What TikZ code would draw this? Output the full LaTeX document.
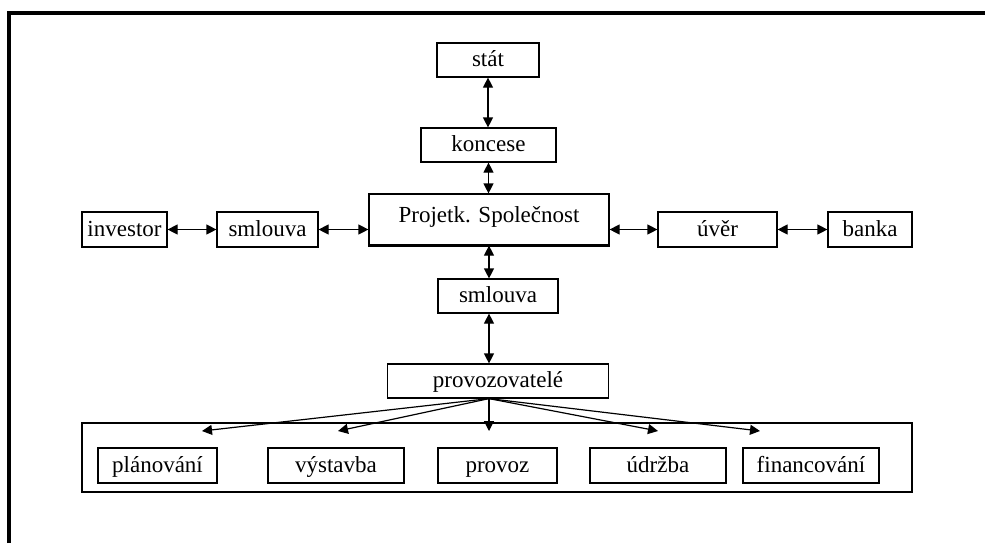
\documentclass[tikz,border=0pt]{standalone}
\usepackage{fontspec}
\setmainfont{Liberation Serif}
\usetikzlibrary{arrows.meta}
\begin{document}
\begin{tikzpicture}
    [ x=0.5pt, y=-0.5pt
    , every node/.style={font=\fontsize{11.5}{13}\selectfont}
    , box/.style={draw,shape=rectangle,line width=0.6pt,inner sep=0pt,text height=8.5pt,text depth=2pt}
    , link/.style={{Triangle[length=5pt,width=5pt]}-{Triangle[length=5pt,width=5pt]},line width=0.6pt}
    , fan/.style={-{Triangle[length=5pt,width=5pt]},line width=0.6pt}
    ]

    \useasboundingbox (0,0) rectangle (985,543);
    \draw [line width=2pt] (9,543) -- (9,13) -- (985,13);

    % centre column
    \node [box, minimum width=51pt, minimum height=17pt] (stat) at (488,60) {stát};
    \node [box, minimum width=67.5pt, minimum height=17pt] (koncese) at (488.5,145) {koncese};
    \node [box, minimum width=120pt, minimum height=25.5pt, text depth=5.5pt] (proj) at (489,219.5) {Projetk. Společnost};
    \node [box, minimum width=60pt, minimum height=17pt] (smlouvaM) at (498,296) {smlouva};
    \node [box, minimum width=110.5pt, minimum height=17pt] (provozovatele) at (498,381) {provozovatelé};
    \draw [line width=1.2pt] (proj.south west) -- (proj.south east);

    % side row
    \node [box, minimum width=42.5pt, minimum height=17.5pt] (investor) at (124.5,229.5) {investor};
    \node [box, minimum width=50.5pt, minimum height=17.5pt] (smlouvaL) at (267.5,229.5) {smlouva};
    \node [box, minimum width=59.5pt, minimum height=17.5pt] (uver) at (717.5,229.5) {úvěr};
    \node [box, minimum width=42pt, minimum height=17.5pt] (banka) at (870,229.5) {banka};

    % activities
    \node [box, minimum width=415pt, minimum height=34.5pt] (activities) at (497,457.5) {};
    \node [box, minimum width=59.5pt, minimum height=17.5pt] (planovani) at (157.5,465.5) {plánování};
    \node [box, minimum width=68pt, minimum height=17.5pt] (vystavba) at (336,465.5) {výstavba};
    \node [box, minimum width=59.5pt, minimum height=17.5pt] (provoz) at (497.5,465.5) {provoz};
    \node [box, minimum width=68pt, minimum height=17.5pt] (udrzba) at (658,465.5) {údržba};
    \node [box, minimum width=68pt, minimum height=17.5pt] (financovani) at (811,465.5) {financování};

    \draw [link] (stat.south) -- (stat.south |- koncese.north);
    \draw [link] (koncese.south) -- (koncese.south |- proj.north);
    \draw [link] (proj.south) -- (proj.south |- smlouvaM.north);
    \draw [link] (smlouvaM.south -| proj.south) -- (provozovatele.north -| proj.south);

    \draw [link] (investor) -- (smlouvaL);
    \draw [link] (smlouvaL) -- (smlouvaL -| proj.west);
    \draw [link] (proj.east |- uver) -- (uver);
    \draw [link] (uver) -- (banka);

    \coordinate (fanorigin) at (provozovatele.south -| proj.south);
    \foreach \tx [count=\i] in {202,338,489,658,760}
      {
        \coordinate (tip\i) at (\tx,431);
        \draw [fan] (fanorigin) -- (tip\i);
      }

  \end{tikzpicture}
\end{document}
